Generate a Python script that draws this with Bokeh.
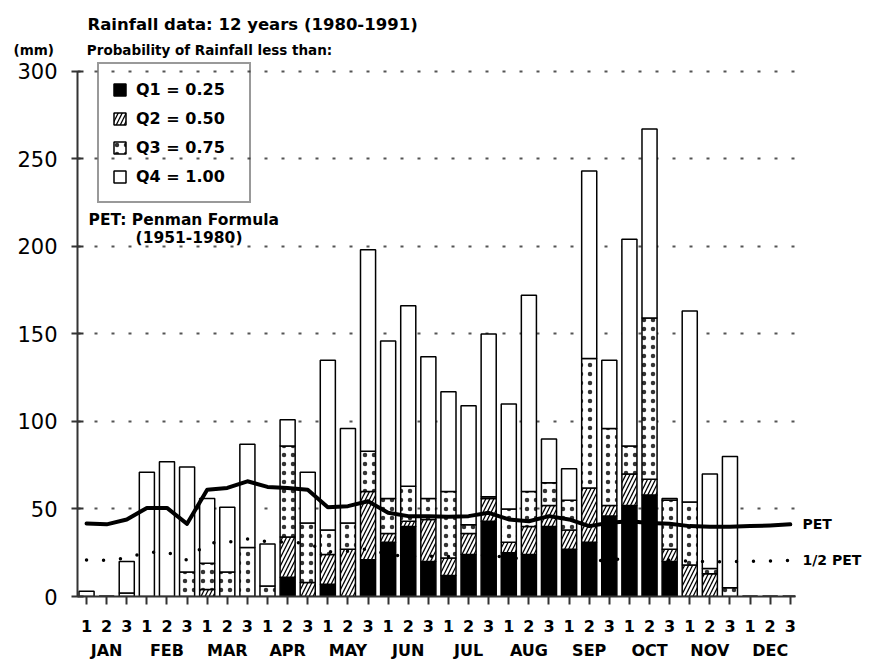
from bokeh.plotting import figure
from bokeh.models import (FixedTicker, LinearAxis, Legend, LegendItem, Label,
                          ColumnDataSource, Range1d, Title)
from bokeh.embed import file_html
from bokeh.resources import INLINE

# ---------------- data ----------------
dekad = list(range(1, 37))
dekad_labels = ["1", "2", "3"] * 12
months = ["JAN", "FEB", "MAR", "APR", "MAY", "JUN",
          "JUL", "AUG", "SEP", "OCT", "NOV", "DEC"]
month_ticks = [2, 5, 8, 11, 14, 17, 20, 23, 26, 29, 32, 35]
y_ticks = [0, 50, 100, 150, 200, 250, 300]

# rainfall quantiles (mm), cumulative: Q1 <= Q2 <= Q3 <= Q4
q1 = [0, 0, 0, 0, 0, 0, 0, 0, 0, 0, 11, 0, 7, 0, 21, 31, 40, 20,
      12, 24, 43, 25, 24, 40, 27, 31, 46, 52, 58, 20, 0, 0, 0, 0, 0, 0]
q2 = [0, 0, 0, 0, 0, 0, 4, 0, 0, 0, 34, 8, 24, 27, 60, 36, 43, 44,
      22, 36, 56, 31, 40, 52, 38, 62, 52, 70, 67, 27, 18, 13, 0, 0, 0, 0]
q3 = [0, 0, 2, 0, 0, 14, 19, 14, 28, 6, 86, 42, 38, 42, 83, 56, 63, 56,
      60, 41, 57, 50, 60, 65, 55, 136, 96, 86, 159, 55, 54, 16, 5, 0, 0, 0]
q4 = [3, 0, 20, 71, 77, 74, 56, 51, 87, 30, 101, 71, 135, 96, 198, 146, 166, 137,
      117, 109, 150, 110, 172, 90, 73, 243, 135, 204, 267, 56, 163, 70, 80, 0, 0, 0]

# PET (Penman) and half PET (mm per dekad)
pet = [41.7, 41.2, 44.0, 50.6, 50.6, 41.5, 61.0, 62.0, 65.8, 62.6, 62.0, 61.0,
       51.0, 51.6, 54.4, 47.8, 45.9, 45.9, 45.5, 45.9, 47.8, 44.0, 43.0, 45.9,
       44.0, 40.2, 42.1, 43.0, 42.0, 41.5, 40.2, 39.8, 39.8, 40.2, 40.6, 41.2]
half_pet = [20.9, 20.6, 22.0, 25.3, 25.3, 20.8, 30.5, 31.0, 32.9, 31.3, 31.0, 30.5,
            25.5, 25.8, 27.2, 23.9, 23.0, 23.0, 22.8, 23.0, 23.9, 22.0, 21.5, 23.0,
            22.0, 20.1, 21.0, 21.5, 21.0, 20.8, 20.1, 19.9, 19.9, 20.1, 20.3, 20.6]

FONT = "DejaVu Sans"
NB = "\u00a0"

src = ColumnDataSource(dict(x=dekad, q0=[0] * len(dekad), q1=q1, q2=q2, q3=q3, q4=q4))
pet_src = ColumnDataSource(dict(x=dekad, pet=pet, half=half_pet))

p = figure(width=873, height=663, output_backend="svg", toolbar_location=None,
           title=None,
           x_range=Range1d(0.55, 36.26), y_range=Range1d(0, 305),
           min_border_left=77, min_border_right=78, min_border_top=62,
           min_border_bottom=67)
p.outline_line_color = None
p.background_fill_color = "white"
p.border_fill_color = "white"

# titles (first added = closest to the plot)
sub = Title(text="(mm)" + NB * 7 + "Probability of Rainfall less than:",
            align="left", offset=-64, standoff=9,
            text_font=FONT, text_font_style="bold", text_font_size="13.5px",
            text_color="black")
p.add_layout(sub, "above")
main = Title(text="Rainfall data: 12 years (1980-1991)", align="left", offset=10,
             standoff=3, text_font=FONT, text_font_style="bold",
             text_font_size="16.5px", text_color="black")
p.add_layout(main, "above")

# grid
p.xgrid.visible = False
p.ygrid.ticker = FixedTicker(ticks=y_ticks[1:])
p.ygrid.grid_line_color = "#555555"
p.ygrid.grid_line_width = 2
p.ygrid.grid_line_dash = "3 14"

# y axis
yax = p.yaxis[0]
yax.ticker = FixedTicker(ticks=y_ticks)
yax.bounds = (y_ticks[0], y_ticks[-1])
yax.major_label_text_font = FONT
yax.major_label_text_font_size = "21px"
yax.major_label_text_color = "black"
yax.major_tick_in = 6
yax.major_tick_out = 6
yax.major_label_standoff = 14
yax.minor_tick_line_color = None
yax.axis_line_width = 2
yax.axis_line_color = "#333333"
yax.major_tick_line_width = 2
yax.major_tick_line_color = "#333333"

# right-hand labels for the PET curves
rax = LinearAxis(ticker=FixedTicker(ticks=[pet[-1], half_pet[-1]]),
                 major_label_overrides={pet[-1]: "PET", half_pet[-1]: "1/2 PET"})
rax.axis_line_color = None
rax.major_tick_line_color = None
rax.minor_tick_line_color = None
rax.major_tick_out = 0
rax.major_tick_in = 0
rax.major_label_standoff = 7
rax.major_label_text_font = FONT
rax.major_label_text_font_style = "bold"
rax.major_label_text_font_size = "14px"
rax.major_label_text_color = "black"
p.add_layout(rax, "right")

# x axis (dekads)
xax = p.xaxis[0]
xax.ticker = FixedTicker(ticks=dekad)
xax.major_label_overrides = {d: lab for d, lab in zip(dekad, dekad_labels)}
xax.major_label_text_font = FONT
xax.major_label_text_font_style = "bold"
xax.major_label_text_font_size = "16px"
xax.major_label_text_color = "black"
xax.major_tick_in = 0
xax.major_tick_out = 8
xax.major_tick_line_width = 2
xax.major_tick_line_color = "#333333"
xax.minor_tick_line_color = None
xax.axis_line_width = 2
xax.axis_line_color = "#333333"
xax.major_label_standoff = 15

# x axis (months)
max2 = LinearAxis(ticker=FixedTicker(ticks=month_ticks),
                  major_label_overrides={t: m for t, m in zip(month_ticks, months)})
max2.axis_line_color = None
max2.major_tick_line_color = None
max2.minor_tick_line_color = None
max2.major_label_standoff = 0
max2.major_label_text_font = FONT
max2.major_label_text_font_style = "bold"
max2.major_label_text_font_size = "16px"
max2.major_label_text_color = "black"
p.add_layout(max2, "below")

# stacked quantile bars
bw = 0.75
r1 = p.vbar(x="x", width=bw, bottom="q0", top="q1", source=src,
            fill_color="black", line_color="black", line_width=1.5)
r2 = p.vbar(x="x", width=bw, bottom="q1", top="q2", source=src,
            fill_color="white", hatch_pattern="/", hatch_color="black",
            hatch_scale=8, hatch_weight=1.3, line_color="black", line_width=1.5)
r3 = p.vbar(x="x", width=bw, bottom="q2", top="q3", source=src,
            fill_color="white", hatch_pattern=".", hatch_color="#333333",
            hatch_scale=9, hatch_weight=1.2, line_color="black", line_width=1.5)
r4 = p.vbar(x="x", width=bw, bottom="q3", top="q4", source=src,
            fill_color="white", line_color="black", line_width=1.5)

# PET lines
p.line("x", "pet", source=pet_src, line_color="black", line_width=4,
       line_join="round", line_cap="round")
p.line("x", "half", source=pet_src, line_color="black", line_width=3.5,
       line_dash="0 17", line_cap="round")

# legend
legend = Legend(items=[LegendItem(label="Q1 = 0.25", renderers=[r1]),
                       LegendItem(label="Q2 = 0.50", renderers=[r2]),
                       LegendItem(label="Q3 = 0.75", renderers=[r3]),
                       LegendItem(label="Q4 = 1.00", renderers=[r4])],
                location=(20, 393))
legend.border_line_color = "#333333"
legend.border_line_width = 2
legend.background_fill_alpha = 0
legend.label_text_font = FONT
legend.label_text_font_style = "bold"
legend.label_text_font_size = "16px"
legend.label_text_color = "black"
legend.glyph_width = 15
legend.glyph_height = 15
legend.label_height = 24
legend.label_width = 100
legend.label_standoff = 9
legend.spacing = 5
legend.padding = 13
legend.margin = 0
p.add_layout(legend)

# texts inside the plot area
def add_label(x, y, text, size):
    p.add_layout(Label(x=x, y=y, text=text, text_font=FONT,
                       text_font_size=size, text_color="black",
                       text_font_style="bold", text_baseline="middle"))

add_label(1.1, 215, "PET: Penman Formula", "15.5px")
add_label(3.44, 205, "(1951-1980)", "15.5px")

open("out.html", "w").write(file_html(p, INLINE))
